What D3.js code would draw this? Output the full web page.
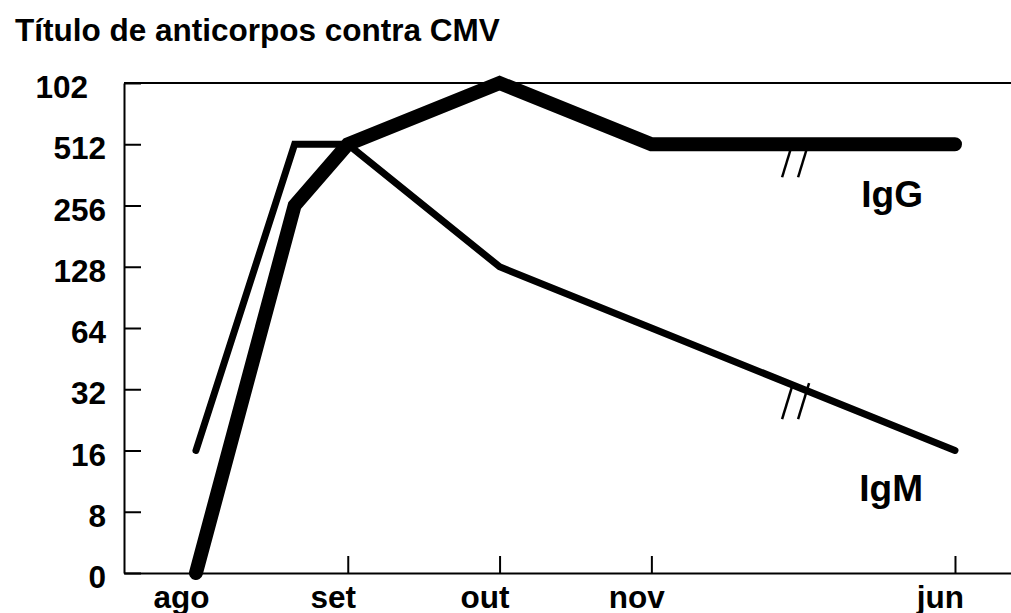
<!DOCTYPE html>
<html>
<head>
<meta charset="utf-8">
<script src="https://cdn.jsdelivr.net/npm/d3@7"></script>
<style>
  body { margin: 0; background: #fff; }
  svg { display: block; }
</style>
</head>
<body>
<div class="chart"></div>
<script>
const width = 1011;
const height = 613;
const font = "'Liberation Sans', Arial, Helvetica, sans-serif";

// months on the x axis (jun sits two units after nov: the axis is broken there)
const months = ["ago", "set", "out", "nov", "jun"];
const monthPos = [0, 1, 2, 3, 5];

// titre steps on the y axis (the top label is cut to "102" in the original)
const yTicks = [0, 8, 16, 32, 64, 128, 256, 512, 1024];
const yTickLabels = ["0", "8", "16", "32", "64", "128", "256", "512", "102"];

// series, time in months after the start of ago
const igmTime = [0, 0.65, 1, 2, 3, 5];
const igmValues = [16, 512, 512, 128, 64, 16];
const iggTime = [0, 0.65, 1, 2, 3, 5];
const iggValues = [0, 256, 512, 1024, 512, 512];

const breakAt = 3.95; // where the "//" marks go

const plotLeft = 124, plotRight = width, plotTop = 83, plotBottom = 573;

const x = d3.scaleLinear()
	.domain([-0.474, 5.369])
	.range([plotLeft, plotRight]);

const y = d3.scalePoint()
	.domain(yTicks)
	.range([plotBottom, plotTop]);

const svg = d3.select('.chart')
	.append('svg')
	.attr('width', width)
	.attr('height', height);

// title
svg.append('text')
	.attr('x', 15)
	.attr('y', 41)
	.attr('font-family', font)
	.attr('font-weight', 'bold')
	.attr('font-size', '31.5px')
	.text('Título de anticorpos contra CMV');

// y axis, ticks point inward
const yAxis = svg.append('g')
	.attr('transform', `translate(${plotLeft},0)`)
	.call(d3.axisLeft(y)
		.tickFormat((d, i) => yTickLabels[i])
		.tickSizeInner(-17)
		.tickSizeOuter(0)
		.tickPadding(18));

yAxis.selectAll('text')
	.attr('dy', '0.46em')
	.attr('dx', d => d === 1024 ? -18 : 0);

// x axis
const xAxis = svg.append('g')
	.attr('transform', `translate(0,${plotBottom})`)
	.call(d3.axisBottom(x)
		.tickValues(monthPos)
		.tickFormat((d, i) => months[i])
		.tickSizeInner(-17)
		.tickSizeOuter(0)
		.tickPadding(13));

xAxis.selectAll('text').attr('dx', -15);

[yAxis, xAxis].forEach(g => {
	g.attr('font-family', font)
		.attr('font-size', '31.5px')
		.attr('font-weight', 'bold');
	g.selectAll('path, line')
		.attr('stroke', '#000')
		.attr('stroke-width', 2);
	g.selectAll('text').attr('fill', '#000');
});

// top frame line
svg.append('line')
	.attr('x1', plotLeft)
	.attr('x2', plotRight)
	.attr('y1', y(1024))
	.attr('y2', y(1024))
	.attr('stroke', '#000')
	.attr('stroke-width', 2);

const lineFun = d3.line()
	.x(d => x(d.t))
	.y(d => y(d.v))
	.curve(d3.curveLinear);

const series = [
	{name: 'IgM', time: igmTime, values: igmValues, width: 7, labelDy: 50},
	{name: 'IgG', time: iggTime, values: iggValues, width: 14, labelDy: 63}
];

series.forEach(s => {
	const pts = s.time.map((t, i) => ({t: t, v: s.values[i]}));

	svg.append('path')
		.attr('d', lineFun(pts))
		.attr('fill', 'none')
		.attr('stroke', '#000')
		.attr('stroke-width', s.width)
		.attr('stroke-linecap', 'round')
		.attr('stroke-linejoin', 'miter');

	// break marks "//"
	const yAt = d3.scaleLinear()
		.domain(s.time.map(x))
		.range(s.values.map(y));
	const bx = x(breakAt);
	const by = yAt(bx) + 15;
	[-8, 8].forEach(off => {
		svg.append('line')
			.attr('x1', bx + off - 5.5)
			.attr('y1', by + 18)
			.attr('x2', bx + off + 5.5)
			.attr('y2', by - 18)
			.attr('stroke', '#000')
			.attr('stroke-width', 2.5);
	});

	const last = pts[pts.length - 1];
	svg.append('text')
		.attr('x', x(last.t) - 32)
		.attr('y', y(last.v) + s.labelDy)
		.attr('text-anchor', 'end')
		.attr('font-family', font)
		.attr('font-weight', 'bold')
		.attr('font-size', '37px')
		.text(s.name);
});
</script>
</body>
</html>
